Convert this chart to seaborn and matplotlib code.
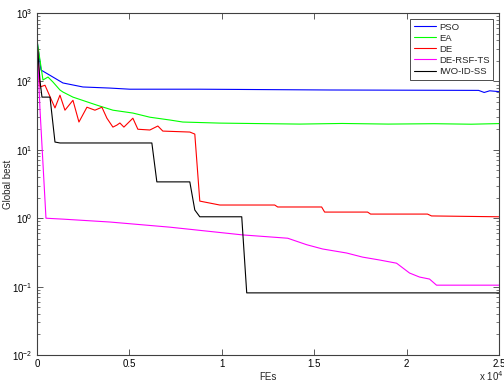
import matplotlib
matplotlib.use("Agg")
import matplotlib.pyplot as plt
from matplotlib.ticker import FuncFormatter, FixedLocator
import pandas as pd
import seaborn as sns

# convergence curves (FEs, global best)
pso_fes = [0, 216, 1405, 2486, 3946, 5027, 8810, 15840, 23900, 24200, 24500, 25000]
pso_val = [403, 147, 95, 83, 80, 77, 77, 75, 74, 69, 73, 71]

ea_fes = [0, 324, 595, 865, 1243, 1405, 1946, 3243, 4108, 5189, 6108, 7189, 7891,
          9891, 12000, 14215, 16500, 19000, 21500, 23500, 25000]
ea_val = [403, 105, 116, 98, 75, 70, 59, 45, 38, 34.5, 30, 27.3, 25.5,
          24.6, 24.2, 23.8, 24.3, 23.8, 24.1, 23.7, 24.2]

de_fes = [0, 162, 432, 595, 973, 1243, 1513, 1946, 2270, 2703, 3135, 3513, 3784,
          4108, 4324, 4486, 4703, 5189, 5459, 6108, 6540, 6810, 8270, 8540, 8810,
          9891, 12864, 13026, 15404, 15566, 17891, 18053, 21133, 21350, 25000]
de_val = [403, 83, 88, 70, 41, 63, 38, 53, 25.5, 42, 38, 42, 29,
          21.5, 23, 24.7, 21.5, 29, 20, 19.5, 22.3, 18.8, 18.2, 17, 1.78,
          1.56, 1.56, 1.46, 1.46, 1.23, 1.23, 1.15, 1.15, 1.08, 1.05]

rsf_fes = [0, 160, 486, 1405, 3946, 7189, 11134, 13567, 14594, 15458, 16756,
           17621, 18540, 19459, 20161, 20702, 21242, 21621, 25000]
rsf_val = [403, 40, 1.0, 0.97, 0.88, 0.74, 0.57, 0.51, 0.41, 0.355, 0.31,
           0.27, 0.245, 0.22, 0.158, 0.138, 0.129, 0.105, 0.105]

iwo_fes = [0, 162, 270, 703, 973, 1243, 6216, 6486, 8270, 8540, 8810, 11080, 11350, 25000]
iwo_val = [403, 102, 59, 59, 13, 12.6, 12.6, 3.4, 3.4, 1.32, 1.05, 1.05, 0.081, 0.081]

names = ["PSO", "EA", "DE", "DE-RSF-TS", "IWO-ID-SS"]
colors = ["#0000ff", "#00ff00", "#ff0000", "#ff00ff", "#000000"]

frames = []
for name, f, v in zip(names, [pso_fes, ea_fes, de_fes, rsf_fes, iwo_fes],
                      [pso_val, ea_val, de_val, rsf_val, iwo_val]):
    frames.append(pd.DataFrame({"FEs": f, "best": v, "alg": name}))
df = pd.concat(frames, ignore_index=True)

sns.set_style("ticks")
plt.rcParams["font.family"] = ["Liberation Sans", "DejaVu Sans"]
plt.rcParams.update({
    "xtick.direction": "in", "ytick.direction": "in",
    "xtick.top": True, "ytick.right": True,
    "xtick.minor.visible": False,
    "axes.edgecolor": "#404040", "axes.linewidth": 0.8,
    "xtick.color": "#404040", "ytick.color": "#404040",
    "xtick.labelcolor": "black", "ytick.labelcolor": "black",
    "font.size": 7,
})

fig = plt.figure(figsize=(5.04, 3.84), dpi=100)
ax = fig.add_axes([0.0734, 0.0755, 0.9166, 0.8905])

sns.lineplot(data=df, x="FEs", y="best", hue="alg", palette=colors,
             estimator=None, sort=False, linewidth=0.8, ax=ax)

ax.set_yscale("log")
ax.set_ylim(1e-2, 1e3)
ax.set_xlim(0, 25000)
ax.xaxis.set_major_locator(FixedLocator([0, 5000, 10000, 15000, 20000, 25000]))
ax.xaxis.set_major_formatter(FuncFormatter(lambda v, p: "%g" % (v / 1e4)))
ax.tick_params(which="major", length=4, width=0.6, labelsize=7, pad=3)
ax.tick_params(which="minor", length=2, width=0.5)

ax.set_xlabel("FEs", fontsize=7, labelpad=2)
ax.set_ylabel("Global best", fontsize=7)
ax.yaxis.set_label_coords(-0.052, 0.5)
fig.text(0.999, 1 - 376 / 384, r"x 10$^4$", ha="right", va="center", fontsize=7)

leg = ax.legend(loc="upper right", fontsize=6.8, frameon=True, fancybox=False,
                edgecolor="#303030", framealpha=1, borderpad=0.4, handlelength=2.3,
                handletextpad=0.35, labelspacing=0.22, borderaxespad=0.6)
leg.get_frame().set_linewidth(0.6)

fig.savefig("out.png", dpi=100)
